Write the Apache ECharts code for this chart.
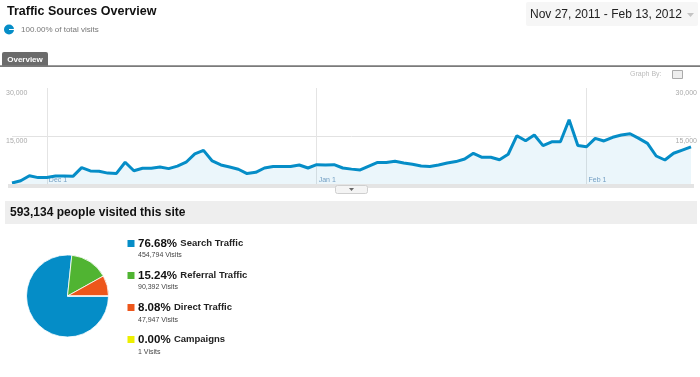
<!DOCTYPE html>
<html><head><meta charset="utf-8">
<script src="https://cdn.jsdelivr.net/npm/echarts@6/dist/echarts.min.js"></script>
<style>html,body{margin:0;padding:0;background:#fff}#c{width:700px;height:377px}</style>
</head><body><div id="c"></div>
<script>
// ---- data ----
const monthSpans = [['Nov', 27, 30], ['Dec', 1, 31], ['Jan', 1, 31], ['Feb', 1, 13]];
const visits = [
  300, 1000, 2600, 2000, 2000, 2500, 2500, 2400, 5100, 4100,
  4000, 3400, 3300, 6800, 4150, 4900, 4900, 5300, 4800, 5600,
  6800, 9400, 10500, 7200, 5950, 5300, 4600, 3250, 3650, 5000,
  5500, 5500, 5500, 5950, 5000, 6050, 5950, 6050, 5000, 4650,
  4400, 5600, 6750, 6750, 7100, 6550, 6150, 5600, 5500, 5950,
  6550, 7000, 7800, 9600, 8350, 8350, 7600, 9300, 15100, 13500,
  15300, 12000, 13200, 13200, 20100, 12000, 11650, 14250, 13450, 14600,
  15300, 15700, 14250, 12700, 8750, 7500, 9600, 10600, 11600
];
const xTickLabels = ['Dec 1', 'Jan 1', 'Feb 1'];
const yTickValues = [15000, 30000];
const yTickLabels = ['15,000', '30,000'];
const sourceNames = ['Search Traffic', 'Referral Traffic', 'Direct Traffic', 'Campaigns'];
const sourcePercents = ['76.68%', '15.24%', '8.08%', '0.00%'];
const sourceVisits = [454794, 90392, 47947, 1];
const totalVisitors = '593,134';
const dateRange = 'Nov 27, 2011 - Feb 13, 2012';

// ---- build ----
const categories = [];
monthSpans.forEach(([m, a, b]) => { for (let d = a; d <= b; d++) categories.push(m + ' ' + d); });
const sourceColors = ['#058dc7', '#50b432', '#ed561b', '#edef00'];
const FF = '"Liberation Sans", Arial, sans-serif';
const isTick = (i, v) => xTickLabels.indexOf(v) >= 0;
const yFmt = v => { const k = yTickValues.indexOf(v); return k < 0 ? '' : yTickLabels[k]; };

const graphics = [
  { type: 'text', x: 7, y: 12, style: { text: 'Traffic Sources Overview', font: 'bold 12.5px ' + FF, fill: '#111', verticalAlign: 'middle' } },
  { type: 'circle', shape: { cx: 9, cy: 29.5, r: 5 }, style: { fill: '#058dc7' } },
  { type: 'line', shape: { x1: 9, y1: 29.5, x2: 14, y2: 29.5 }, style: { stroke: '#fff', lineWidth: 1 } },
  { type: 'text', x: 21, y: 30, style: { text: '100.00% of total visits', font: '8px ' + FF, fill: '#777', verticalAlign: 'middle' } },
  { type: 'rect', shape: { x: 526, y: 2, width: 172, height: 24, r: 2 }, style: { fill: '#f6f6f6' } },
  { type: 'text', x: 530, y: 15, style: { text: dateRange, font: '12px ' + FF, fill: '#222', verticalAlign: 'middle' } },
  { type: 'polygon', shape: { points: [[687, 13], [694, 13], [690.5, 17]] }, style: { fill: '#c4c4c4' } },
  { type: 'rect', shape: { x: 2, y: 52, width: 46, height: 14, r: [2, 2, 0, 0] }, style: { fill: '#6b6b6b' } },
  { type: 'text', x: 25, y: 59.5, style: { text: 'Overview', font: 'bold 8px ' + FF, fill: '#fff', align: 'center', verticalAlign: 'middle' } },
  { type: 'rect', shape: { x: 0, y: 65.3, width: 700, height: 1.7 }, style: { fill: '#7a7a7a' } },
  { type: 'text', x: 630, y: 74.5, style: { text: 'Graph By:', font: '7px ' + FF, fill: '#bbb', verticalAlign: 'middle' } },
  { type: 'rect', shape: { x: 672.5, y: 70.5, width: 10, height: 8 }, style: { fill: '#eee', stroke: '#aaa', lineWidth: 1 } },
  { type: 'rect', shape: { x: 8, y: 184, width: 686, height: 4 }, style: { fill: '#e4e4e4' }, z: 10 },
  { type: 'rect', shape: { x: 335.5, y: 185.5, width: 32, height: 8, r: 2 }, style: { fill: '#f4f4f4', stroke: '#cfcfcf', lineWidth: 1 }, z: 11 },
  { type: 'polygon', shape: { points: [[349, 188], [354, 188], [351.5, 191]] }, style: { fill: '#666' }, z: 12 },
  { type: 'rect', shape: { x: 5, y: 201, width: 692, height: 23 }, style: { fill: '#eeeeee' } },
  { type: 'text', x: 10, y: 213, style: { text: totalVisitors + ' people visited this site', font: 'bold 12px ' + FF, fill: '#111', verticalAlign: 'middle' } }
];
sourceNames.forEach((n, i) => {
  graphics.push({ type: 'rect', shape: { x: 127.5, y: 240 + 32 * i, width: 7, height: 7 }, style: { fill: sourceColors[i] } });
  graphics.push({ type: 'text', x: 138, y: 243.5 + 32 * i, style: {
    text: '{p|' + sourcePercents[i] + '} {l|' + n + '}', verticalAlign: 'middle',
    rich: { p: { font: 'bold 11.5px ' + FF, fill: '#111' }, l: { font: 'bold 9.5px ' + FF, fill: '#222' } } } });
  graphics.push({ type: 'text', x: 138, y: 255 + 32.5 * i, style: {
    text: sourceVisits[i].toLocaleString('en-US') + ' Visits', font: '7px ' + FF, fill: '#444', verticalAlign: 'middle' } });
});

const chart = echarts.init(document.getElementById('c'), null, { renderer: 'canvas' });
chart.setOption({
  animation: false,
  backgroundColor: '#fff',
  textStyle: { fontFamily: FF },
  grid: { left: 12, right: 9, top: 88, bottom: 377 - 184, containLabel: false },
  xAxis: {
    type: 'category', data: categories, boundaryGap: false,
    axisLine: { show: false }, axisTick: { show: false },
    axisLabel: { inside: true, interval: isTick, margin: 0, align: 'left', verticalAlign: 'bottom',
      padding: [0, 0, 0, 2], color: '#7fa2c4', fontSize: 7, fontFamily: FF },
    splitLine: { show: true, interval: isTick, lineStyle: { color: '#e4e4e4', width: 1 } }
  },
  yAxis: [
    { type: 'value', min: 0, max: 30000, interval: 15000, position: 'left',
      axisLine: { show: false }, axisTick: { show: false },
      axisLabel: { inside: true, margin: -6, formatter: yFmt, verticalAlign: 'top', padding: [2, 0, 0, 0],
        color: '#aaa', fontSize: 7, fontFamily: FF },
      splitLine: { show: true, lineStyle: { color: ['rgba(0,0,0,0)', '#e2e2e2', 'rgba(0,0,0,0)'] } } },
    { type: 'value', min: 0, max: 30000, interval: 15000, position: 'right',
      axisLine: { show: false }, axisTick: { show: false },
      axisLabel: { inside: true, margin: -6, formatter: yFmt, verticalAlign: 'top', padding: [2, 0, 0, 0],
        color: '#aaa', fontSize: 7, fontFamily: FF },
      splitLine: { show: false } }
  ],
  series: [
    { type: 'line', data: visits, symbol: 'none', smooth: false,
      lineStyle: { color: '#058dc7', width: 3 },
      areaStyle: { color: 'rgba(5,141,199,0.11)' } },
    { type: 'pie', center: [67.5, 296], radius: 41, startAngle: 0, clockwise: true,
      label: { show: false }, labelLine: { show: false }, silent: true,
      itemStyle: { borderColor: '#fff', borderWidth: 0.8 },
      data: sourceNames.map((n, i) => ({ name: n, value: sourceVisits[i], itemStyle: { color: sourceColors[i] } })) }
  ],
  graphic: graphics
});
</script>
</body></html>
